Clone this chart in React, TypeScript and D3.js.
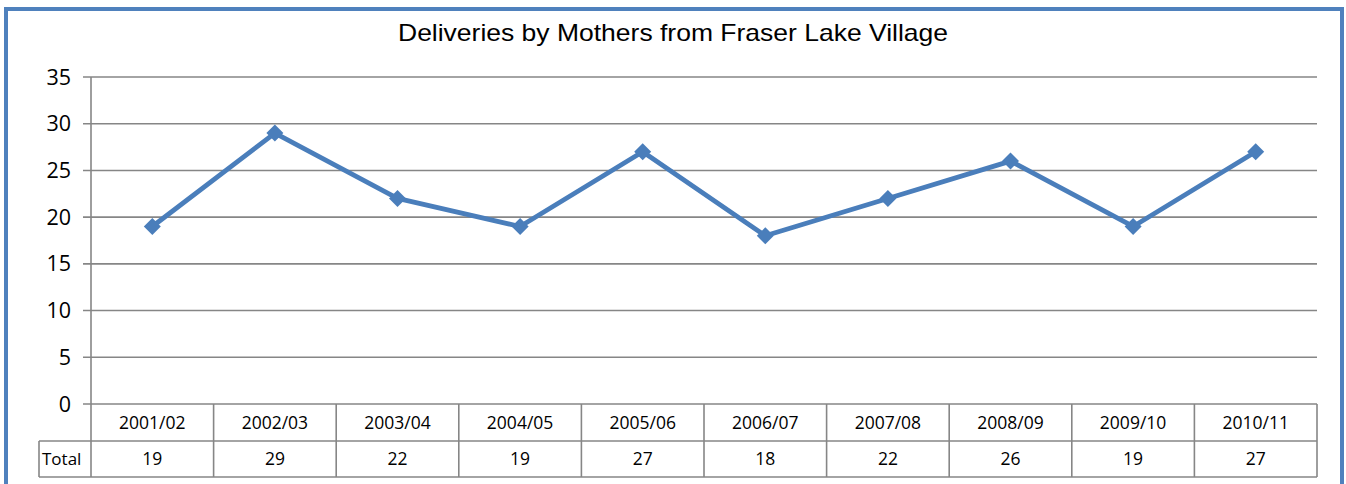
import React from "react";
import * as d3 from "d3";

const categories = ["2001/02", "2002/03", "2003/04", "2004/05", "2005/06", "2006/07", "2007/08", "2008/09", "2009/10", "2010/11"];
const totals = [19, 29, 22, 19, 27, 18, 22, 26, 19, 27];
const yTicks = [0, 5, 10, 15, 20, 25, 30, 35];
const seriesName = "Total";
const title = "Deliveries by Mothers from Fraser Lake Village";

const W = 1346;
const H = 484;
const plotLeft = 91;
const plotRight = 1317;
const plotTop = 77;
const plotBottom = 404;
const row1Bottom = 441;
const row2Bottom = 477;
const totalLeft = 39;

const lineColor = "#4A7EBB";
const gridColor = "#868686";
const numFont = "'Open Sans', 'Liberation Sans', sans-serif";

export default function App() {
  const x = d3.scaleBand<string>().domain(categories).range([plotLeft, plotRight]);
  const y = d3.scaleLinear().domain([0, 35]).range([plotBottom, plotTop]);
  const pts: [number, number][] = totals.map((v, i) => [x(categories[i])! + x.bandwidth() / 2, y(v)]);
  const line = d3.line()(pts) || "";
  const d = 8.5;

  return (
    <svg width={W} height={H} style={{ position: "absolute", left: 0, top: 0, background: "#fff" }}>
      <rect x={6} y={9} width={1336} height={500} fill="#fff" stroke="#4F81BD" strokeWidth={4} />
      <text x={673} y={41} textAnchor="middle" fontFamily="'Liberation Sans', Arial, sans-serif" fontSize={24} fill="#000" textLength={550} lengthAdjust="spacingAndGlyphs">
        {title}
      </text>
      {yTicks.map((t) => (
        <g key={t}>
          <line x1={83} x2={plotRight} y1={y(t)} y2={y(t)} stroke={gridColor} strokeWidth={1.6} />
          <text x={71} y={y(t)} dy="0.35em" textAnchor="end" fontFamily={numFont} fontSize={21.5} fill="#000">
            {t}
          </text>
        </g>
      ))}
      <line x1={plotLeft} x2={plotLeft} y1={plotTop} y2={row1Bottom} stroke={gridColor} strokeWidth={1.6} />
      {categories.map((c, i) => {
        const x0 = x(c)!;
        const x1 = x0 + x.bandwidth();
        const cx = x0 + x.bandwidth() / 2;
        return (
          <g key={c}>
            <line x1={x1} x2={x1} y1={plotBottom} y2={row2Bottom} stroke={gridColor} strokeWidth={1.6} />
            <text x={cx} y={(plotBottom + row1Bottom) / 2} dy="0.36em" textAnchor="middle" fontFamily={numFont} fontSize={17.5} fill="#000">
              {c}
            </text>
            <text x={cx} y={(row1Bottom + row2Bottom) / 2} dy="0.36em" textAnchor="middle" fontFamily={numFont} fontSize={17.5} fill="#000">
              {totals[i]}
            </text>
          </g>
        );
      })}
      <line x1={totalLeft} x2={plotRight} y1={row1Bottom} y2={row1Bottom} stroke={gridColor} strokeWidth={1.6} />
      <line x1={totalLeft} x2={plotRight} y1={row2Bottom} y2={row2Bottom} stroke={gridColor} strokeWidth={1.6} />
      <line x1={totalLeft} x2={totalLeft} y1={row1Bottom} y2={row2Bottom} stroke={gridColor} strokeWidth={1.6} />
      <line x1={plotLeft} x2={plotLeft} y1={row1Bottom} y2={row2Bottom} stroke={gridColor} strokeWidth={1.6} />
      <text x={42} y={(row1Bottom + row2Bottom) / 2} dy="0.36em" fontFamily={numFont} fontSize={17} fill="#000">
        {seriesName}
      </text>
      <path d={line} fill="none" stroke={lineColor} strokeWidth={4.8} strokeLinejoin="round" />
      {pts.map(([px, py], i) => (
        <path key={i} d={`M${px},${py - d}L${px + d},${py}L${px},${py + d}L${px - d},${py}Z`} fill={lineColor} />
      ))}
    </svg>
  );
}
